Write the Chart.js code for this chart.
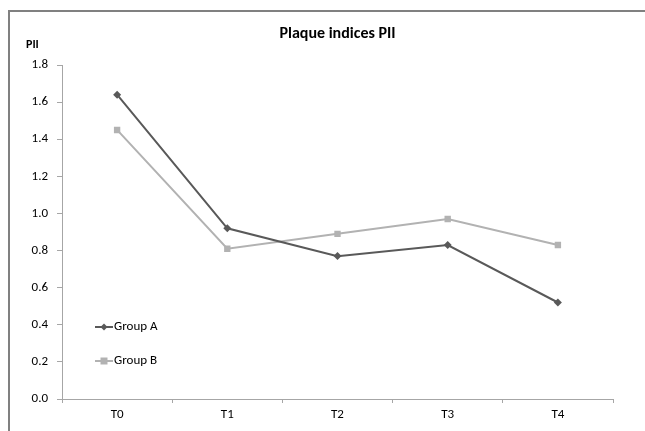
<!DOCTYPE html>
<html>
<head>
<meta charset="utf-8">
<script src="https://cdn.jsdelivr.net/npm/chart.js@4"></script>
<style>
  html, body { margin: 0; padding: 0; background: #fff; }
  #wrap { width: 645px; height: 431px; position: relative; }
</style>
</head>
<body>
<div id="wrap"><canvas id="chart"></canvas></div>
<script>
// chart data
const categories = ["T0", "T1", "T2", "T3", "T4"];
const groupA = [1.64, 0.92, 0.77, 0.83, 0.52];
const groupB = [1.45, 0.81, 0.89, 0.97, 0.83];
const yTicks = [0.0, 0.2, 0.4, 0.6, 0.8, 1.0, 1.2, 1.4, 1.6, 1.8];

const FONT = "Carlito, 'Liberation Sans Narrow', 'DejaVu Sans Condensed', 'Liberation Sans', sans-serif";
const colA = "#595959";
const colB = "#b2b2b2";

// frame, title, "PII" label and the inline legend
const decorations = {
    id: "decorations",
    afterDraw(chart) {
        const ctx = chart.ctx;
        const area = chart.chartArea;
        ctx.save();
        // outer frame (runs off the right/bottom edge)
        ctx.strokeStyle = "#808080";
        ctx.lineWidth = 2;
        ctx.beginPath();
        ctx.moveTo(9, 440);
        ctx.lineTo(9, 11);
        ctx.lineTo(660, 11);
        ctx.stroke();

        ctx.fillStyle = "#000";
        ctx.textBaseline = "middle";
        ctx.textAlign = "center";
        ctx.font = "bold 16px " + FONT;
        ctx.fillText("Plaque indices PII", (area.left + area.right) / 2, 34);

        ctx.textAlign = "left";
        ctx.font = "bold 12px " + FONT;
        ctx.fillText("PII", 26, 45);

        // legend
        const items = chart.data.datasets.map((ds, i) => ({ ds, y: [327, 361][i] }));
        items.forEach(({ ds, y }) => {
            ctx.strokeStyle = ds.borderColor;
            ctx.lineWidth = 2;
            ctx.beginPath();
            ctx.moveTo(95, y);
            ctx.lineTo(113, y);
            ctx.stroke();
            ctx.fillStyle = ds.backgroundColor;
            ctx.beginPath();
            if (ds.pointStyle === "rectRot") {
                ctx.moveTo(104, y - 3.5);
                ctx.lineTo(107.5, y);
                ctx.lineTo(104, y + 3.5);
                ctx.lineTo(100.5, y);
                ctx.closePath();
            } else {
                ctx.rect(100.5, y - 3.5, 7, 7);
            }
            ctx.fill();
            ctx.fillStyle = "#000";
            ctx.font = "13px " + FONT;
            ctx.fillText(ds.label, 114, y);
        });
        ctx.restore();
    }
};

const data = {
    labels: categories,
    datasets: [
        {
            label: "Group A",
            data: groupA,
            borderColor: colA,
            backgroundColor: colA,
            borderWidth: 2,
            pointStyle: "rectRot",
            pointRadius: 4,
            pointBorderWidth: 0,
            tension: 0
        },
        {
            label: "Group B",
            data: groupB,
            borderColor: colB,
            backgroundColor: colB,
            borderWidth: 2,
            pointStyle: "rect",
            pointRadius: 4.5,
            pointBorderWidth: 0,
            tension: 0
        }
    ]
};

const chart = new Chart(document.getElementById("chart"), {
    type: "line",
    data: data,
    plugins: [decorations],
    options: {
        responsive: true,
        maintainAspectRatio: false,
        animation: false,
        layout: { padding: { left: 0, top: 65, right: 32, bottom: 0 } },
        plugins: {
            legend: { display: false },
            title: { display: false },
            tooltip: { enabled: false }
        },
        scales: {
            x: {
                offset: true,
                grid: {
                    offset: true,
                    drawOnChartArea: false,
                    drawTicks: true,
                    tickLength: 4,
                    color: "#a6a6a6"
                },
                border: { color: "#a6a6a6", width: 1 },
                ticks: {
                    color: "#000",
                    padding: 4,
                    font: { family: FONT, size: 13 }
                },
                afterFit(scale) { scale.height = 32; }
            },
            y: {
                min: 0,
                max: 1.8,
                afterBuildTicks(scale) {
                    scale.ticks = yTicks.map(v => ({ value: v }));
                },
                grid: {
                    drawOnChartArea: false,
                    drawTicks: true,
                    tickLength: 5,
                    color: "#a6a6a6"
                },
                border: { color: "#a6a6a6", width: 1 },
                ticks: {
                    color: "#000",
                    padding: 9,
                    font: { family: FONT, size: 13 },
                    callback: v => Number(v).toFixed(1)
                },
                afterFit(scale) { scale.width = 62; }
            }
        }
    }
});
</script>
</body>
</html>
